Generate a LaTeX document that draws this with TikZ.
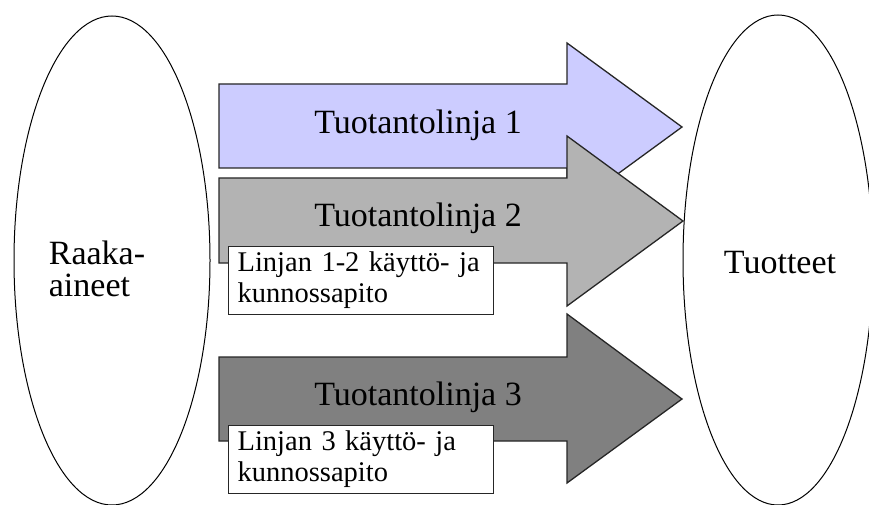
\documentclass[tikz,border=0pt]{standalone}
\usepackage{fontspec}
\setmainfont{Liberation Serif}
\usetikzlibrary{shapes.geometric}

\definecolor{lineone}{HTML}{CCCCFF}
\definecolor{linetwo}{HTML}{B3B3B3}
\definecolor{linethree}{HTML}{808080}

\tikzset{
  blob/.style={draw=black, line width=1pt, ellipse, inner sep=0pt, fill=white},
  bigtext/.style={font=\fontsize{34}{32}\selectfont, inner sep=0pt},
  blockarrow/.style={draw=black!85, line width=1.3pt, line join=miter},
  notebox/.style={draw=black!85, line width=1.2pt, fill=white,
    minimum width=265pt, minimum height=68pt, text width=247pt,
    align=left, inner sep=0pt, anchor=north west,
    font=\fontsize{28.5}{31}\selectfont}
}

\begin{document}
\begin{tikzpicture}[x=1pt, y=-1pt]
  \useasboundingbox (0,0) rectangle (869,505);

  % raw materials and products
  \node[blob, minimum width=196pt, minimum height=489pt] (raw) at (112,260.5) {};
  \node[bigtext, align=left] (rawtxt) at (97,269) {Raaka-\\aineet};
  \node[blob, minimum width=190pt, minimum height=490pt] (prod) at (778,260) {};
  \node[bigtext] (prodtxt) at (780,263) {Tuotteet};

  % production line 1
  \draw[blockarrow, fill=lineone]
    (219,84) -- (567,84) -- (567,43) -- (682,127) -- (567,211) -- (567,168) -- (219,168) -- cycle;
  \node[bigtext] (l1) at (418,125) {Tuotantolinja 1};

  % production line 2
  \draw[blockarrow, fill=linetwo]
    (219,178) -- (567,178) -- (567,136) -- (683,221) -- (567,306) -- (567,263) -- (219,263) -- cycle;
  \node[bigtext] (l2) at (418,218) {Tuotantolinja 2};
  \node[notebox] (m12) at (228,246) {Linjan 1-2 käyttö- ja kunnossapito};

  % production line 3
  \draw[blockarrow, fill=linethree]
    (219,357) -- (567,357) -- (567,314) -- (682,399) -- (567,483) -- (567,441) -- (219,441) -- cycle;
  \node[bigtext] (l3) at (418,397) {Tuotantolinja 3};
  \node[notebox] (m3) at (228,425) {Linjan 3 käyttö- ja kunnossapito};
\end{tikzpicture}
\end{document}
